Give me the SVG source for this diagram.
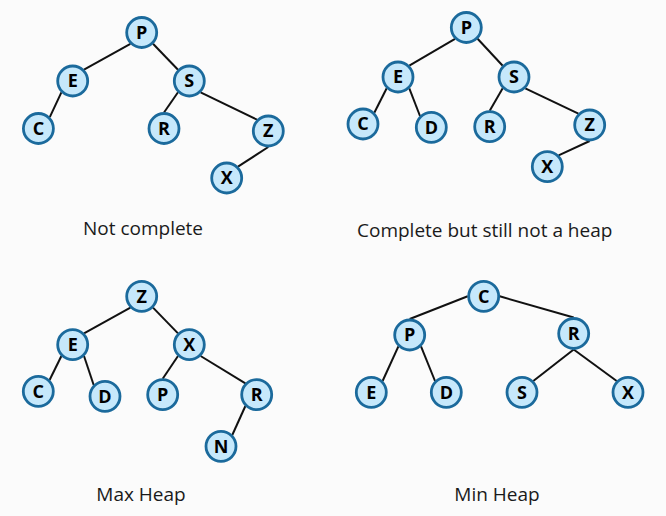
<svg xmlns="http://www.w3.org/2000/svg" width="666" height="516" viewBox="0 0 666 516">
<style>
.e{stroke:#111;stroke-width:2;fill:none}
.n circle{fill:#c6e8fb;stroke:#1b6a9c;stroke-width:2.8}
.n text{font-family:"Open Sans","Liberation Sans",sans-serif;font-weight:bold;font-size:18px;fill:#000;text-anchor:middle}
.cap{font-family:"Open Sans","Liberation Sans",sans-serif;font-size:19px;fill:#1a1a1a;text-anchor:middle}
</style>
<rect width="666" height="516" fill="#fbfbfb"/>
<g id="connectors">
<line class="e" x1="130.4" y1="43.8" x2="84" y2="69.7"/>
<line class="e" x1="153" y1="43.8" x2="178" y2="69.7"/>
<line class="e" x1="61.4" y1="92.3" x2="49.8" y2="117.2"/>
<line class="e" x1="178" y1="92.3" x2="164" y2="112.5"/>
<line class="e" x1="200.6" y1="92.3" x2="257" y2="119.7"/>
<line class="e" x1="268.3" y1="147" x2="238" y2="166.7"/>
<line class="e" x1="455" y1="38.8" x2="409.3" y2="65.7"/>
<line class="e" x1="477.6" y1="38.8" x2="502.7" y2="65.7"/>
<line class="e" x1="386.7" y1="88.3" x2="374.3" y2="112.7"/>
<line class="e" x1="409.3" y1="88.3" x2="420" y2="116"/>
<line class="e" x1="502.7" y1="88.3" x2="489.7" y2="110.7"/>
<line class="e" x1="525.3" y1="88.3" x2="578.4" y2="113.7"/>
<line class="e" x1="589.7" y1="141" x2="558.6" y2="155.4"/>
<line class="e" x1="130.4" y1="307.6" x2="84" y2="333.4"/>
<line class="e" x1="153" y1="307.6" x2="178" y2="333.4"/>
<line class="e" x1="61.4" y1="356" x2="49.6" y2="380"/>
<line class="e" x1="84" y1="356" x2="93.7" y2="385"/>
<line class="e" x1="178" y1="356" x2="162.7" y2="378.7"/>
<line class="e" x1="200.6" y1="356" x2="245.4" y2="383.4"/>
<line class="e" x1="245.4" y1="406" x2="232.3" y2="435"/>
<line class="e" x1="467.7" y1="296.3" x2="409.7" y2="319"/>
<line class="e" x1="499.7" y1="296.3" x2="573.7" y2="317.5"/>
<line class="e" x1="398.4" y1="346.3" x2="382.6" y2="381"/>
<line class="e" x1="421" y1="346.3" x2="435" y2="381"/>
<line class="e" x1="573.7" y1="349.5" x2="533.3" y2="381"/>
<line class="e" x1="573.7" y1="349.5" x2="616.7" y2="381"/>
</g>
<g id="t1-P" class="n"><circle cx="141.7" cy="32.5" r="15"/><text x="141.7" y="38.9">P</text></g>
<g id="t1-E" class="n"><circle cx="72.7" cy="81" r="15"/><text x="72.7" y="87.4">E</text></g>
<g id="t1-S" class="n"><circle cx="189.3" cy="81" r="15"/><text x="189.3" y="87.4">S</text></g>
<g id="t1-C" class="n"><circle cx="38.4" cy="128.5" r="15"/><text x="38.4" y="134.9">C</text></g>
<g id="t1-R" class="n"><circle cx="164" cy="128.5" r="15"/><text x="164" y="134.9">R</text></g>
<g id="t1-Z" class="n"><circle cx="268.3" cy="131" r="15"/><text x="268.3" y="137.4">Z</text></g>
<g id="t1-X" class="n"><circle cx="226.7" cy="178" r="15"/><text x="226.7" y="184.4">X</text></g>
<g id="t2-P" class="n"><circle cx="466.3" cy="27.5" r="15"/><text x="466.3" y="33.9">P</text></g>
<g id="t2-E" class="n"><circle cx="398" cy="77" r="15"/><text x="398" y="83.4">E</text></g>
<g id="t2-S" class="n"><circle cx="514" cy="77" r="15"/><text x="514" y="83.4">S</text></g>
<g id="t2-C" class="n"><circle cx="363" cy="124" r="15"/><text x="363" y="130.4">C</text></g>
<g id="t2-D" class="n"><circle cx="431.3" cy="127.3" r="15"/><text x="431.3" y="133.7">D</text></g>
<g id="t2-R" class="n"><circle cx="489.7" cy="126.7" r="15"/><text x="489.7" y="133.1">R</text></g>
<g id="t2-Z" class="n"><circle cx="589.7" cy="125" r="15"/><text x="589.7" y="131.4">Z</text></g>
<g id="t2-X" class="n"><circle cx="547.3" cy="166.7" r="15"/><text x="547.3" y="173.1">X</text></g>
<g id="t3-Z" class="n"><circle cx="141.7" cy="296.3" r="15"/><text x="141.7" y="302.7">Z</text></g>
<g id="t3-E" class="n"><circle cx="72.7" cy="344.7" r="15"/><text x="72.7" y="351.1">E</text></g>
<g id="t3-X" class="n"><circle cx="189.3" cy="344.7" r="15"/><text x="189.3" y="351.1">X</text></g>
<g id="t3-C" class="n"><circle cx="38.3" cy="391.3" r="15"/><text x="38.3" y="397.7">C</text></g>
<g id="t3-D" class="n"><circle cx="105" cy="396.3" r="15"/><text x="105" y="402.7">D</text></g>
<g id="t3-P" class="n"><circle cx="162.7" cy="394.7" r="15"/><text x="162.7" y="401.1">P</text></g>
<g id="t3-R" class="n"><circle cx="256.7" cy="394.7" r="15"/><text x="256.7" y="401.1">R</text></g>
<g id="t3-N" class="n"><circle cx="221" cy="446.3" r="15"/><text x="221" y="452.7">N</text></g>
<g id="t4-C" class="n"><circle cx="483.7" cy="296.3" r="15"/><text x="483.7" y="302.7">C</text></g>
<g id="t4-P" class="n"><circle cx="409.7" cy="335" r="15"/><text x="409.7" y="341.4">P</text></g>
<g id="t4-R" class="n"><circle cx="573.7" cy="333.5" r="15"/><text x="573.7" y="339.9">R</text></g>
<g id="t4-E" class="n"><circle cx="371.3" cy="392.3" r="15"/><text x="371.3" y="398.7">E</text></g>
<g id="t4-D" class="n"><circle cx="446.3" cy="392.3" r="15"/><text x="446.3" y="398.7">D</text></g>
<g id="t4-S" class="n"><circle cx="522" cy="392.3" r="15"/><text x="522" y="398.7">S</text></g>
<g id="t4-X" class="n"><circle cx="628" cy="392.3" r="15"/><text x="628" y="398.7">X</text></g>
<text class="cap" x="143" y="235">Not complete</text>
<text class="cap" x="484.7" y="236.5">Complete but still not a heap</text>
<text class="cap" x="141" y="500.7">Max Heap</text>
<text class="cap" x="497" y="500.7">Min Heap</text>
</svg>
